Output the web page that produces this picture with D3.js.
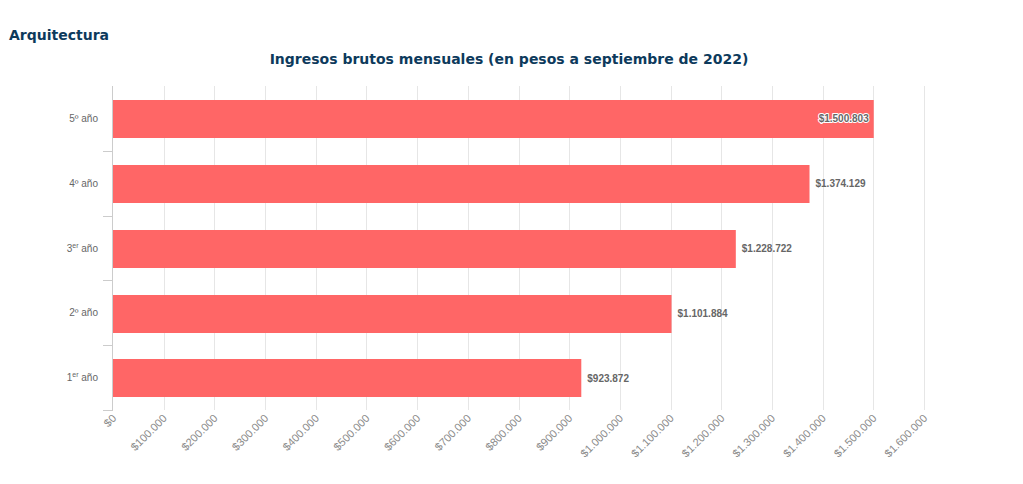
<!DOCTYPE html>
<html><head><meta charset="utf-8">
<script src="https://cdn.jsdelivr.net/npm/d3@7"></script>
<style>body{margin:0;background:#fff}svg{display:block}</style>
</head><body>
<svg id="c" width="1023" height="484"></svg>
<script>
const categories = ["5º año","4º año","3er año","2º año","1er año"];
const catMain = ["5º","4º","3","2º","1"];
const catSup = ["","","er","","er"];
const values = [1500803, 1374129, 1228722, 1101884, 923872];
const valueLabels = ["$1.500.803","$1.374.129","$1.228.722","$1.101.884","$923.872"];
const xTicks = [0,100000,200000,300000,400000,500000,600000,700000,800000,900000,1000000,1100000,1200000,1300000,1400000,1500000,1600000];

const svg = d3.select("#c");
const m = {l:113, r:924, t:86, b:410};
const x = d3.scaleLinear().domain([0,1600000]).range([m.l, m.r]);
const y = d3.scaleBand().domain(categories).range([m.t, m.b]).paddingInner(0.41).paddingOuter(0.205);
const fmt = v => "$" + d3.format(",")(v).replace(/,/g, ".");

svg.append("text").attr("x",9).attr("y",40).text("Arquitectura")
  .attr("font-family","DejaVu Sans, Verdana, sans-serif").attr("font-weight","bold").attr("font-size",14).attr("fill","#0d3a5c");
svg.append("text").attr("x",509).attr("y",64).attr("text-anchor","middle").text("Ingresos brutos mensuales (en pesos a septiembre de 2022)")
  .attr("font-family","DejaVu Sans, Verdana, sans-serif").attr("font-weight","bold").attr("font-size",14).attr("fill","#0d3a5c");

// grid
svg.append("g").selectAll("line").data(xTicks.slice(1)).join("line")
  .attr("x1",d=>Math.round(x(d))+0.5).attr("x2",d=>Math.round(x(d))+0.5).attr("y1",m.t).attr("y2",m.b)
  .attr("stroke","#e6e6e6");

// x tick labels
svg.append("g").selectAll("text").data(xTicks).join("text")
  .attr("transform",d=>`translate(${x(d)+4},${419}) rotate(-45)`)
  .attr("text-anchor","end").attr("font-family","Liberation Sans, Arial, sans-serif").attr("font-size",11).attr("fill","#8a8a8a")
  .text(fmt);

// y axis
svg.append("line").attr("x1",m.l-0.5).attr("x2",m.l-0.5).attr("y1",m.t).attr("y2",m.b+0.5).attr("stroke","#ccc");
const edges = [];
categories.forEach((c,i)=>{ if(i>0) edges.push(y(c) - y.step()*y.paddingInner()/2); });
edges.push(m.b);
svg.append("g").selectAll("line").data(edges).join("line")
  .attr("x1",m.l-10).attr("x2",m.l).attr("y1",d=>Math.round(d)+0.5).attr("y2",d=>Math.round(d)+0.5).attr("stroke","#ccc");

// category labels
const cl = svg.append("g").selectAll("text").data(categories).join("text")
  .attr("x",98).attr("y",(d)=>y(d)+y.bandwidth()/2+3.5).attr("text-anchor","end")
  .attr("font-family","Liberation Sans, Arial, sans-serif").attr("font-size",10).attr("fill","#666");
cl.each(function(d,i){
  const t = d3.select(this);
  t.append("tspan").text(catMain[i]);
  if(catSup[i]){ t.append("tspan").attr("dy",-4).attr("font-size",7).text(catSup[i]); t.append("tspan").attr("dy",4).text(" año"); }
  else t.append("tspan").text(" año");
});

// bars
svg.append("g").selectAll("rect").data(values).join("rect")
  .attr("x",x(0)).attr("y",(d,i)=>Math.round(y(categories[i]))+1).attr("width",d=>x(d)-x(0)).attr("height",Math.round(y.bandwidth()))
  .attr("fill","#ff6666");

// value labels
svg.append("g").selectAll("text").data(values).join("text")
  .attr("x",(d,i)=> i===0 ? x(d)-5 : x(d)+6)
  .attr("y",(d,i)=>y(categories[i])+y.bandwidth()/2+4)
  .attr("text-anchor",(d,i)=> i===0 ? "end":"start")
  .attr("font-family","Liberation Sans, Arial, sans-serif").attr("font-size",10).attr("font-weight","bold").attr("fill","#666")
  .attr("stroke",(d,i)=> i===0 ? "#fff":"none").attr("stroke-width",2).attr("paint-order","stroke").attr("stroke-linejoin","round")
  .text((d,i)=>valueLabels[i]);
</script>
</body></html>
